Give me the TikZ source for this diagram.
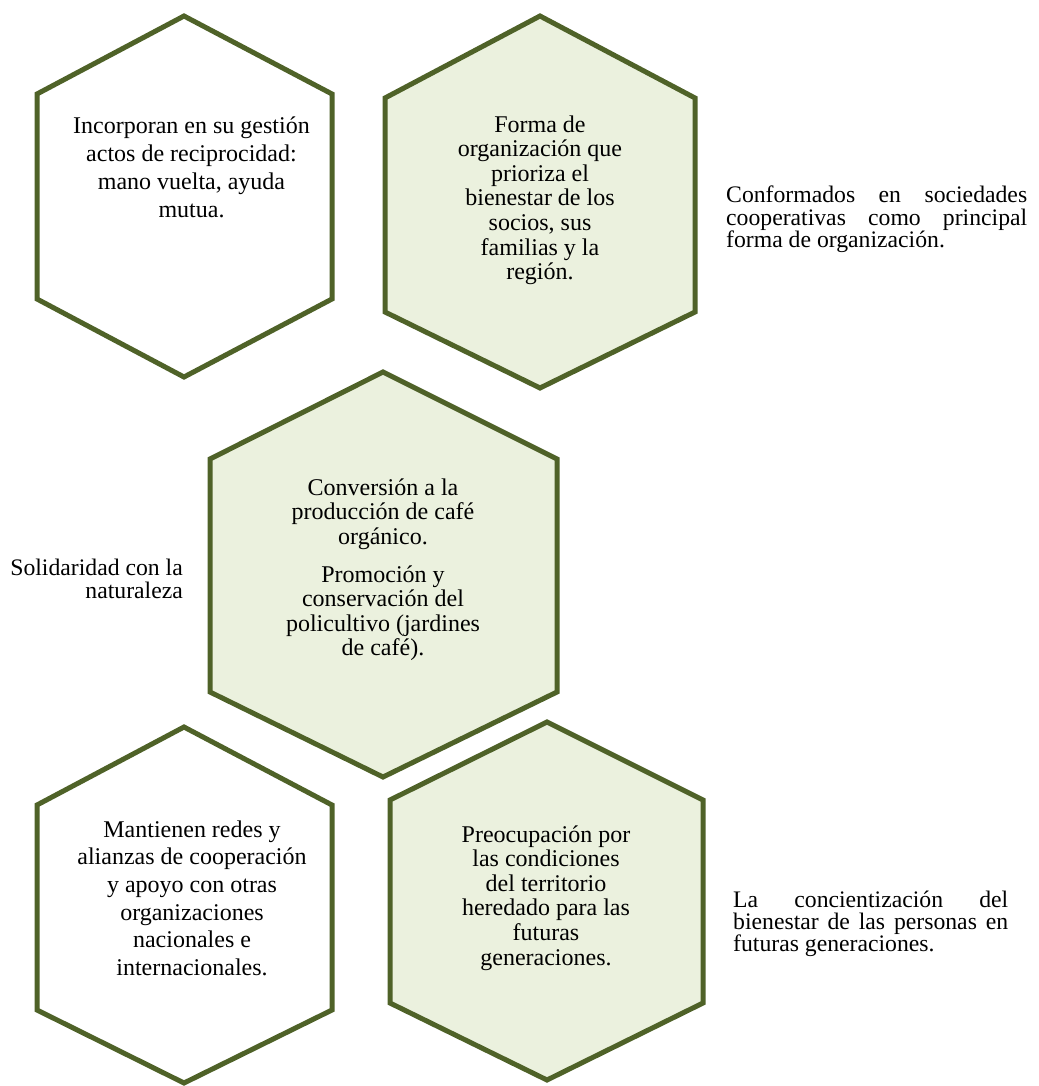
\documentclass[tikz,border=0pt]{standalone}
\usepackage{fontspec}
\setmainfont{Liberation Serif}
\definecolor{hexline}{HTML}{4F6228}
\definecolor{hexfill}{HTML}{EBF1DE}
\tikzset{
  hexw/.style={draw=hexline, line width=5pt, fill=white, line join=miter},
  hexg/.style={hexw, fill=hexfill},
  bigtxt/.style={font=\fontsize{24}{27.7}\selectfont, align=center, inner sep=0pt, anchor=base},
  midtxt/.style={font=\fontsize{24}{24.6}\selectfont, align=center, inner sep=0pt, anchor=base},
  sidetxt/.style={font=\fontsize{23.7}{22}\selectfont, inner sep=0pt},
}
\begin{document}
\begin{tikzpicture}[x=1pt,y=-1pt]
\useasboundingbox (0,0) rectangle (1038,1086);
% hexagons
\draw[hexw] (184,16) -- (332,94) -- (332,299) -- (184,377) -- (37,299) -- (37,94) -- cycle;
\draw[hexg] (540,16) -- (695,98) -- (695,312) -- (540,388) -- (385,312) -- (385,98) -- cycle;
\draw[hexg] (383,372) -- (557,459) -- (557,692) -- (383,777) -- (210,692) -- (210,459) -- cycle;
\draw[hexw] (184,727) -- (332,805) -- (332,1010) -- (184,1083) -- (37,1010) -- (37,805) -- cycle;
\draw[hexg] (547,722) -- (703,800) -- (703,1003) -- (547,1080) -- (390,1003) -- (390,800) -- cycle;
% texts in hexagons (anchor base = baseline of last line)
\node[bigtxt] (t1) at (191.5,217.1) {Incorporan en su gestión\\actos de reciprocidad:\\mano vuelta, ayuda\\mutua.};
\node[midtxt] (t2) at (540,279.6) {Forma de\\organización que\\prioriza el\\bienestar de los\\socios, sus\\familias y la\\región.};
\node[midtxt] (t3) at (383,655.8) {Conversión a la\\producción de café\\orgánico.\\[13.2pt]Promoción y\\conservación del\\policultivo (jardines\\de café).};
\node[bigtxt] (t4) at (192,975.5) {Mantienen redes y\\alianzas de cooperación\\y apoyo con otras\\organizaciones\\nacionales e\\internacionales.};
\node[midtxt] (t5) at (546,965) {Preocupación por\\las condiciones\\del territorio\\heredado para las\\futuras\\generaciones.};
% side texts
\node[sidetxt, align=left, anchor=base west] (s1) at (726,247) {\hbox to 301pt{Conformados\hfill en\hfill sociedades}\\\hbox to 301pt{cooperativas\hfill como\hfill principal}\\forma de organización.};
\node[sidetxt, align=right, anchor=base east, font=\fontsize{23.7}{23}\selectfont] (s2) at (183,598) {Solidaridad con la\\naturaleza};
\node[sidetxt, align=left, anchor=base west] (s3) at (733,951) {\hbox to 275pt{La\hfill concientización\hfill del}\\\hbox to 275pt{bienestar de las personas en}\\futuras generaciones.};
\end{tikzpicture}
\end{document}
